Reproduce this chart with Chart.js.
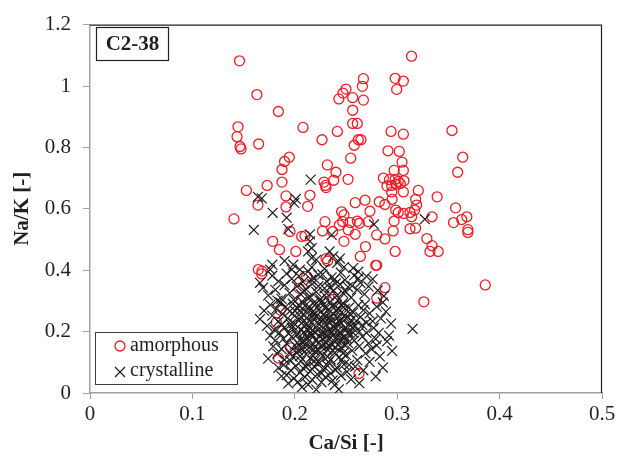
<!DOCTYPE html>
<html><head><meta charset="utf-8">
<script src="https://cdn.jsdelivr.net/npm/chart.js@4.4.1/dist/chart.umd.min.js"></script>
<style>html,body{margin:0;padding:0;background:#fff}canvas{display:block}</style>
</head><body>
<canvas id="c" width="619" height="462"></canvas>
<script>
const seriesNames = ['amorphous', 'crystalline'];
const panelLabel = 'C2-38';
const xTitle = 'Ca/Si [-]';
const yTitle = 'Na/K [-]';
const xTickLabels = ['0', '0.1', '0.2', '0.3', '0.4', '0.5'];
const yTickLabels = ['0', '0.2', '0.4', '0.6', '0.8', '1', '1.2'];

const amorphous = [
[0.146,1.082],[0.314,1.097],[0.267,1.024],[0.266,0.999],[0.298,1.025],[0.306,1.016],[0.2995,0.989],[0.25,0.99],[0.247,0.977],[0.243,0.958],[0.2565,0.962],[0.267,0.954],[0.2565,0.921],[0.2565,0.878],[0.261,0.878],[0.163,0.972],[0.184,0.917],[0.208,0.865],[0.2415,0.852],[0.2266,0.825],[0.294,0.852],[0.306,0.843],[0.258,0.807],[0.262,0.825],[0.2646,0.825],[0.1647,0.811],[0.291,0.789],[0.302,0.787],[0.1445,0.867],[0.1436,0.835],[0.1465,0.803],[0.1475,0.795],
[0.1946,0.768],[0.19,0.754],[0.1875,0.728],[0.2546,0.765],[0.2318,0.743],[0.3047,0.752],[0.306,0.725],[0.297,0.725],[0.2402,0.719],[0.238,0.693],[0.2285,0.687],[0.23,0.676],[0.2305,0.669],[0.252,0.696],[0.1875,0.687],[0.173,0.676],[0.2865,0.70],[0.2925,0.695],[0.298,0.696],[0.301,0.689],[0.3066,0.691],[0.29,0.674],[0.2946,0.676],[0.299,0.68],[0.303,0.682],[0.2946,0.655],[0.306,0.655],[0.3206,0.66],[0.1914,0.642],[0.2148,0.644],[0.2126,0.608],[0.1914,0.606],[0.318,0.631],[0.295,0.631],[0.2686,0.628],[0.259,0.62],[0.2825,0.623],[0.288,0.614],[0.319,0.612],[0.2734,0.592],[0.2985,0.596],[0.301,0.588],[0.306,0.585],[0.3125,0.588],[0.317,0.596],[0.297,0.56],[0.314,0.574],[0.2457,0.59],[0.248,0.58],[0.2468,0.558],[0.2295,0.558],[0.261,0.56],[0.263,0.553],[0.254,0.555],[0.2718,0.558],[0.3125,0.535],[0.318,0.537],[0.28,0.515],[0.288,0.502],[0.296,0.528],[0.2435,0.547],[0.2523,0.531],[0.259,0.517],[0.237,0.526],[0.1953,0.526],[0.2067,0.51],[0.21,0.512],[0.227,0.528],[0.248,0.494],[0.1784,0.494],[0.185,0.467],[0.201,0.461],[0.269,0.477],[0.264,0.445],[0.298,0.461],[0.28,0.416],[0.2305,0.438],[0.168,0.397],
[0.1527,0.66],[0.164,0.612],[0.1406,0.567],[0.1644,0.402],
[0.1677,0.388],[0.2116,0.38],[0.2044,0.341],[0.2376,0.305],[0.186,0.27],[0.182,0.23],[0.196,0.147],[0.184,0.114],[0.2627,0.0635],[0.279,0.416],[0.288,0.343],[0.28,0.309],[0.326,0.297],[0.232,0.43],
[0.386,0.352],[0.3535,0.855],[0.364,0.768],[0.359,0.719],[0.363,0.565],[0.368,0.574],[0.369,0.532],[0.369,0.523],[0.355,0.555],[0.357,0.603],[0.334,0.574],[0.339,0.639],[0.332,0.461],[0.34,0.461],[0.329,0.503],[0.334,0.48]
];

const crystalline = [
[0.2155,0.695],[0.1677,0.634],[0.1995,0.619],[0.164,0.639],[0.201,0.632],
[0.1784,0.587],[0.192,0.571],[0.160,0.531],[0.1937,0.534],[0.2773,0.549],[0.2148,0.517],[0.236,0.515],[0.327,0.566],
[0.2148,0.494],[0.2165,0.472],[0.213,0.461],[0.234,0.461],[0.2376,0.445],[0.2165,0.44],[0.221,0.434],[0.244,0.438],[0.2415,0.424],[0.178,0.418],[0.176,0.402],[0.1985,0.418],[0.197,0.402],[0.257,0.407],[0.2165,0.41],[0.205,0.402],[0.19,0.43],[0.229,0.405],[0.262,0.395],[0.248,0.41],
[0.166,0.359],[0.169,0.343],[0.174,0.318],[0.178,0.382],[0.181,0.336],[0.184,0.364],[0.187,0.307],[0.19,0.351],[0.192,0.389],[0.195,0.326],[0.197,0.372],[0.199,0.304],[0.202,0.347],[0.204,0.381],[0.206,0.321],[0.208,0.362],[0.211,0.338],[0.213,0.396],[0.215,0.312],[0.217,0.355],[0.219,0.373],[0.221,0.329],[0.223,0.348],[0.225,0.306],[0.227,0.386],[0.229,0.341],[0.231,0.364],[0.233,0.318],[0.236,0.377],[0.238,0.334],[0.24,0.357],[0.242,0.302],[0.245,0.392],[0.247,0.326],[0.249,0.368],[0.252,0.345],[0.255,0.311],[0.258,0.383],[0.261,0.336],[0.264,0.359],[0.268,0.322],[0.272,0.347],[0.27,0.38],[0.2686,0.289],[0.276,0.371],[0.281,0.334],[0.287,0.316],
[0.166,0.241],[0.17,0.268],[0.173,0.219],[0.176,0.287],[0.178,0.252],[0.18,0.206],[0.182,0.274],[0.184,0.233],[0.186,0.295],[0.188,0.258],[0.19,0.214],[0.191,0.281],[0.193,0.243],[0.195,0.266],[0.196,0.224],[0.198,0.291],[0.2,0.252],[0.201,0.208],[0.203,0.276],[0.204,0.236],[0.206,0.262],[0.207,0.298],[0.209,0.219],[0.21,0.284],[0.212,0.245],[0.213,0.203],[0.215,0.27],[0.216,0.229],[0.218,0.292],[0.219,0.255],[0.221,0.213],[0.222,0.279],[0.224,0.238],[0.225,0.264],[0.227,0.2],[0.228,0.287],[0.23,0.249],[0.231,0.222],[0.233,0.272],[0.234,0.296],[0.236,0.234],[0.237,0.259],[0.239,0.211],[0.24,0.283],[0.242,0.246],[0.244,0.268],[0.245,0.226],[0.247,0.293],[0.249,0.254],[0.251,0.209],[0.253,0.278],[0.255,0.237],[0.257,0.262],[0.259,0.218],[0.262,0.286],[0.264,0.247],[0.267,0.27],[0.27,0.229],[0.273,0.259],[0.277,0.212],[0.28,0.281],[0.284,0.243],[0.289,0.265],[0.294,0.226],[0.315,0.209],
[0.176,0.187],[0.179,0.152],[0.181,0.171],[0.183,0.128],[0.185,0.196],[0.187,0.143],[0.189,0.177],[0.19,0.108],[0.192,0.161],[0.194,0.194],[0.195,0.132],[0.197,0.183],[0.198,0.118],[0.2,0.156],[0.202,0.189],[0.203,0.139],[0.205,0.172],[0.206,0.104],[0.208,0.164],[0.209,0.198],[0.211,0.127],[0.212,0.181],[0.214,0.148],[0.215,0.113],[0.217,0.191],[0.218,0.159],[0.22,0.136],[0.221,0.174],[0.223,0.102],[0.224,0.186],[0.226,0.151],[0.227,0.121],[0.229,0.195],[0.23,0.167],[0.232,0.141],[0.233,0.178],[0.235,0.109],[0.236,0.157],[0.238,0.189],[0.239,0.131],[0.241,0.172],[0.243,0.116],[0.244,0.199],[0.246,0.146],[0.248,0.181],[0.25,0.124],[0.252,0.163],[0.254,0.193],[0.256,0.138],[0.258,0.171],[0.261,0.107],[0.263,0.152],[0.266,0.184],[0.269,0.129],[0.272,0.162],[0.275,0.143],[0.279,0.176],[0.28,0.155],[0.283,0.119],[0.29,0.168],[0.295,0.137],
[0.174,0.112],[0.184,0.082],[0.187,0.055],[0.189,0.091],[0.192,0.058],[0.1937,0.031],[0.196,0.074],[0.199,0.047],[0.201,0.088],[0.203,0.036],[0.205,0.066],[0.207,0.019],[0.208,0.081],[0.21,0.052],[0.212,0.094],[0.213,0.027],[0.215,0.071],[0.217,0.043],[0.219,0.086],[0.221,0.011],[0.222,0.061],[0.224,0.097],[0.226,0.035],[0.228,0.076],[0.23,0.052],[0.232,0.089],[0.235,0.064],[0.237,0.041],[0.239,0.026],[0.241,0.083],[0.243,0.012],[0.245,0.057],[0.248,0.093],[0.251,0.069],[0.255,0.044],[0.259,0.086],[0.263,0.032],[0.267,0.074],[0.273,0.101],[0.286,0.083],[0.279,0.054],
[0.199,0.227],[0.203,0.193],[0.206,0.248],[0.209,0.171],[0.211,0.265],[0.214,0.214],[0.216,0.188],[0.219,0.239],[0.221,0.292],[0.223,0.163],[0.226,0.218],[0.228,0.257],[0.231,0.184],[0.233,0.231],[0.235,0.204],[0.238,0.171],[0.24,0.226],[0.243,0.189],[0.246,0.241],[0.248,0.207],[0.251,0.176],[0.253,0.224],[0.202,0.131],[0.207,0.144],[0.213,0.167],[0.218,0.121],[0.222,0.142],[0.227,0.176],[0.232,0.118],[0.237,0.139],[0.242,0.157],[0.247,0.129],[0.213,0.311],[0.226,0.298],[0.241,0.317],[0.204,0.285],[0.218,0.266],[0.235,0.251],[0.249,0.274],[0.257,0.196],
[0.197,0.212],[0.2,0.268],[0.204,0.158],[0.206,0.205],[0.208,0.232],[0.21,0.147],[0.212,0.226],[0.214,0.281],[0.215,0.197],[0.217,0.253],[0.218,0.141],[0.22,0.195],[0.221,0.251],[0.223,0.226],[0.224,0.302],[0.225,0.132],[0.226,0.191],[0.228,0.238],[0.229,0.157],[0.23,0.275],[0.232,0.201],[0.233,0.154],[0.234,0.244],[0.236,0.196],[0.237,0.282],[0.238,0.218],[0.24,0.148],[0.241,0.266],[0.242,0.203],[0.244,0.233],[0.245,0.176],[0.246,0.285],[0.248,0.158],[0.25,0.243],[0.252,0.195],[0.254,0.259],[0.256,0.214],[0.26,0.235],[0.263,0.2],[0.266,0.221],[0.209,0.333],[0.216,0.369],[0.223,0.385],[0.229,0.318],[0.234,0.343],[0.239,0.371],[0.244,0.354],[0.25,0.329],[0.256,0.349],[0.262,0.373],[0.205,0.12],[0.211,0.085],[0.219,0.104],[0.226,0.064],[0.233,0.1],[0.24,0.075],[0.246,0.108],[0.253,0.092],[0.196,0.104],[0.187,0.221],[0.183,0.301],[0.27,0.196],[0.276,0.234],[0.282,0.196],[0.286,0.295],[0.292,0.187]
];

const RED = '#EC1C24';
const BLACK = '#231F20';
const FONT = "'Liberation Serif', 'Times New Roman', serif";

const toPts = arr => arr.map(p => ({x: p[0], y: p[1]}));

const decor = {
  id: 'decor',
  afterDraw(chart) {
    const {ctx, chartArea: a} = chart;
    ctx.save();
    ctx.strokeStyle = BLACK;
    ctx.lineWidth = 1.2;
    ctx.beginPath();
    ctx.moveTo(a.left, a.top + 0.5);
    ctx.lineTo(a.right - 0.5, a.top + 0.5);
    ctx.lineTo(a.right - 0.5, a.bottom);
    ctx.stroke();
    ctx.lineWidth = 1.2;
    ctx.strokeStyle = BLACK;
    ctx.fillStyle = '#fff';
    ctx.fillRect(96.5, 27.5, 72, 33);
    ctx.strokeRect(96.5, 27.5, 72, 33);
    ctx.fillStyle = BLACK;
    ctx.font = "bold 21px " + FONT;
    ctx.textAlign = 'center';
    ctx.textBaseline = 'middle';
    ctx.fillText(panelLabel, 132.5, 45);
    ctx.fillStyle = '#fff';
    ctx.fillRect(95.5, 332.5, 142, 52);
    ctx.strokeStyle = '#3a3a3a';
    ctx.lineWidth = 1;
    ctx.strokeRect(95.5, 332.5, 142, 52);
    ctx.strokeStyle = RED;
    ctx.lineWidth = 1.3;
    ctx.beginPath();
    ctx.arc(120, 346, 5, 0, Math.PI * 2);
    ctx.stroke();
    ctx.strokeStyle = BLACK;
    ctx.beginPath();
    ctx.moveTo(115, 367); ctx.lineTo(125, 377);
    ctx.moveTo(125, 367); ctx.lineTo(115, 377);
    ctx.stroke();
    ctx.fillStyle = BLACK;
    ctx.font = "20px " + FONT;
    ctx.textAlign = 'left';
    ctx.textBaseline = 'middle';
    ctx.fillText(seriesNames[0], 130, 346);
    ctx.fillText(seriesNames[1], 130, 371);
    ctx.restore();
  }
};

new Chart(document.getElementById('c'), {
  type: 'scatter',
  data: {
    datasets: [
      {
        label: seriesNames[0],
        data: toPts(amorphous),
        pointStyle: 'circle',
        pointRadius: 5,
        pointBorderWidth: 1.3,
        pointBorderColor: RED,
        pointBackgroundColor: 'rgba(0,0,0,0)',
        order: 2
      },
      {
        label: seriesNames[1],
        data: toPts(crystalline),
        pointStyle: 'crossRot',
        pointRadius: 7,
        pointBorderWidth: 1.2,
        pointBorderColor: BLACK,
        pointBackgroundColor: BLACK,
        order: 1
      }
    ]
  },
  options: {
    responsive: false,
    animation: false,
    events: [],
    layout: {padding: {left: 0, right: 17, top: 21, bottom: 0}},
    plugins: {legend: {display: false}, tooltip: {enabled: false}},
    scales: {
      x: {
        type: 'linear',
        min: 0, max: 0.5,
        afterFit: s => { s.height = 69; },
        border: {display: true, color: '#A0A0A0', width: 1.5},
        grid: {drawOnChartArea: false, drawTicks: true, tickLength: 6, color: '#A0A0A0', lineWidth: 1},
        ticks: {
          stepSize: 0.1,
          padding: 3,
          color: BLACK,
          font: {family: FONT, size: 21},
          maxRotation: 0,
          callback: (v, i) => xTickLabels[i]
        },
        title: {display: true, text: xTitle, color: BLACK, font: {family: FONT, size: 21, weight: 'bold'}, padding: {top: 0, bottom: 6}}
      },
      y: {
        type: 'linear',
        min: 0, max: 1.2,
        afterFit: s => { s.width = 90; },
        border: {display: true, color: '#A0A0A0', width: 1.5},
        grid: {drawOnChartArea: false, drawTicks: true, tickLength: 7, color: '#A0A0A0', lineWidth: 1},
        ticks: {
          stepSize: 0.2,
          padding: 12,
          color: BLACK,
          font: {family: FONT, size: 21},
          callback: (v, i) => yTickLabels[i]
        },
        title: {display: true, text: yTitle, color: BLACK, font: {family: FONT, size: 21, weight: 'bold'}, padding: {top: 10, bottom: 0}}
      }
    }
  },
  plugins: [decor]
});
</script>
</body></html>
